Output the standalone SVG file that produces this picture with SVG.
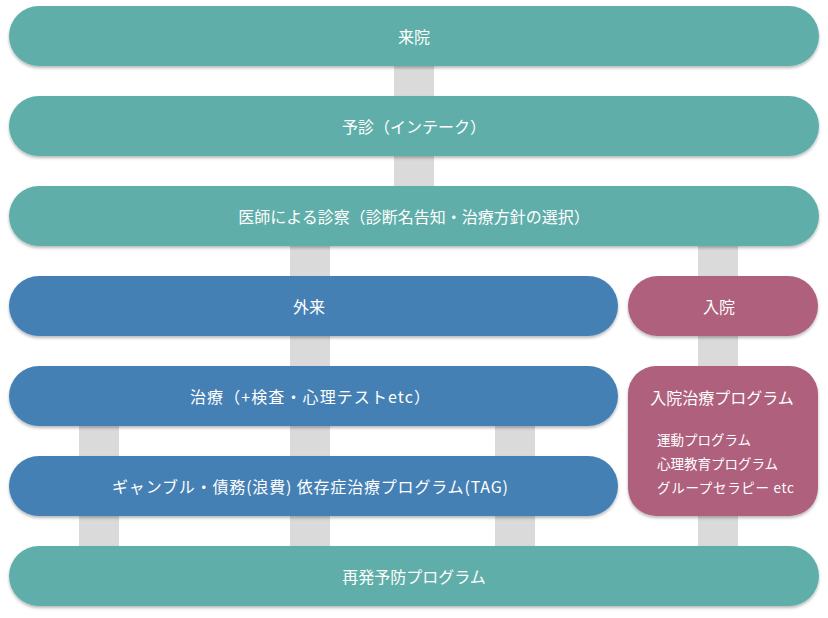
<svg xmlns="http://www.w3.org/2000/svg" width="828" height="618" viewBox="0 0 828 618">
<defs>
<filter id="sh" x="-5%" y="-20%" width="110%" height="150%">
<feDropShadow dx="0" dy="2" stdDeviation="1.5" flood-color="#000" flood-opacity="0.28"/>
</filter>
<style>
.teal{fill:#5FAEAA;filter:url(#sh)}
.blue{fill:#4480B4;filter:url(#sh)}
.pink{fill:#AE607D;filter:url(#sh)}
.conn rect{fill:#DADADA}
text{fill:#fff;font-family:"Noto Sans CJK JP","Noto Sans",sans-serif;font-size:16px;font-weight:400;text-anchor:middle;dominant-baseline:central}
.sub{font-size:13.5px;text-anchor:start}
</style>
</defs>
<rect width="828" height="618" fill="#fff"/>
<g id="connectors" class="conn">
<rect x="394" y="60" width="40" height="130"/>
<rect x="290" y="240" width="40" height="310"/>
<rect x="698" y="240" width="40" height="310"/>
<rect x="79" y="420" width="40" height="130"/>
<rect x="495" y="420" width="40" height="130"/>
</g>
<g id="n1"><rect class="teal" x="9" y="6" width="810" height="60" rx="30"/><text x="414" y="36">来院</text></g>
<g id="n2"><rect class="teal" x="9" y="96" width="810" height="60" rx="30"/><text x="414" y="126">予診（インテーク）</text></g>
<g id="n3"><rect class="teal" x="9" y="186" width="810" height="60" rx="30"/><text x="414" y="216">医師による診察（診断名告知・治療方針の選択）</text></g>
<g id="n4"><rect class="blue" x="9" y="276" width="609" height="60" rx="30"/><text x="309" y="306">外来</text></g>
<g id="n5"><rect class="pink" x="628" y="276" width="190" height="60" rx="30"/><text x="719" y="306">入院</text></g>
<g id="n6"><rect class="blue" x="9" y="366" width="609" height="60" rx="30"/><text x="310" y="396" textLength="240" lengthAdjust="spacing">治療（+検査・心理テストetc）</text></g>
<g id="n7"><rect class="pink" x="628" y="366" width="190" height="150" rx="28"/><text x="722" y="397">入院治療プログラム</text>
<text class="sub" x="657" y="439">運動プログラム</text>
<text class="sub" x="657" y="463">心理教育プログラム</text>
<text class="sub" x="657" y="487" textLength="137" lengthAdjust="spacing">グループセラピー etc</text></g>
<g id="n8"><rect class="blue" x="9" y="456" width="609" height="60" rx="30"/><text x="310" y="486" textLength="396" lengthAdjust="spacing">ギャンブル・債務(浪費) 依存症治療プログラム(TAG)</text></g>
<g id="n9"><rect class="teal" x="9" y="546" width="810" height="60" rx="30"/><text x="414" y="576">再発予防プログラム</text></g>
</svg>
